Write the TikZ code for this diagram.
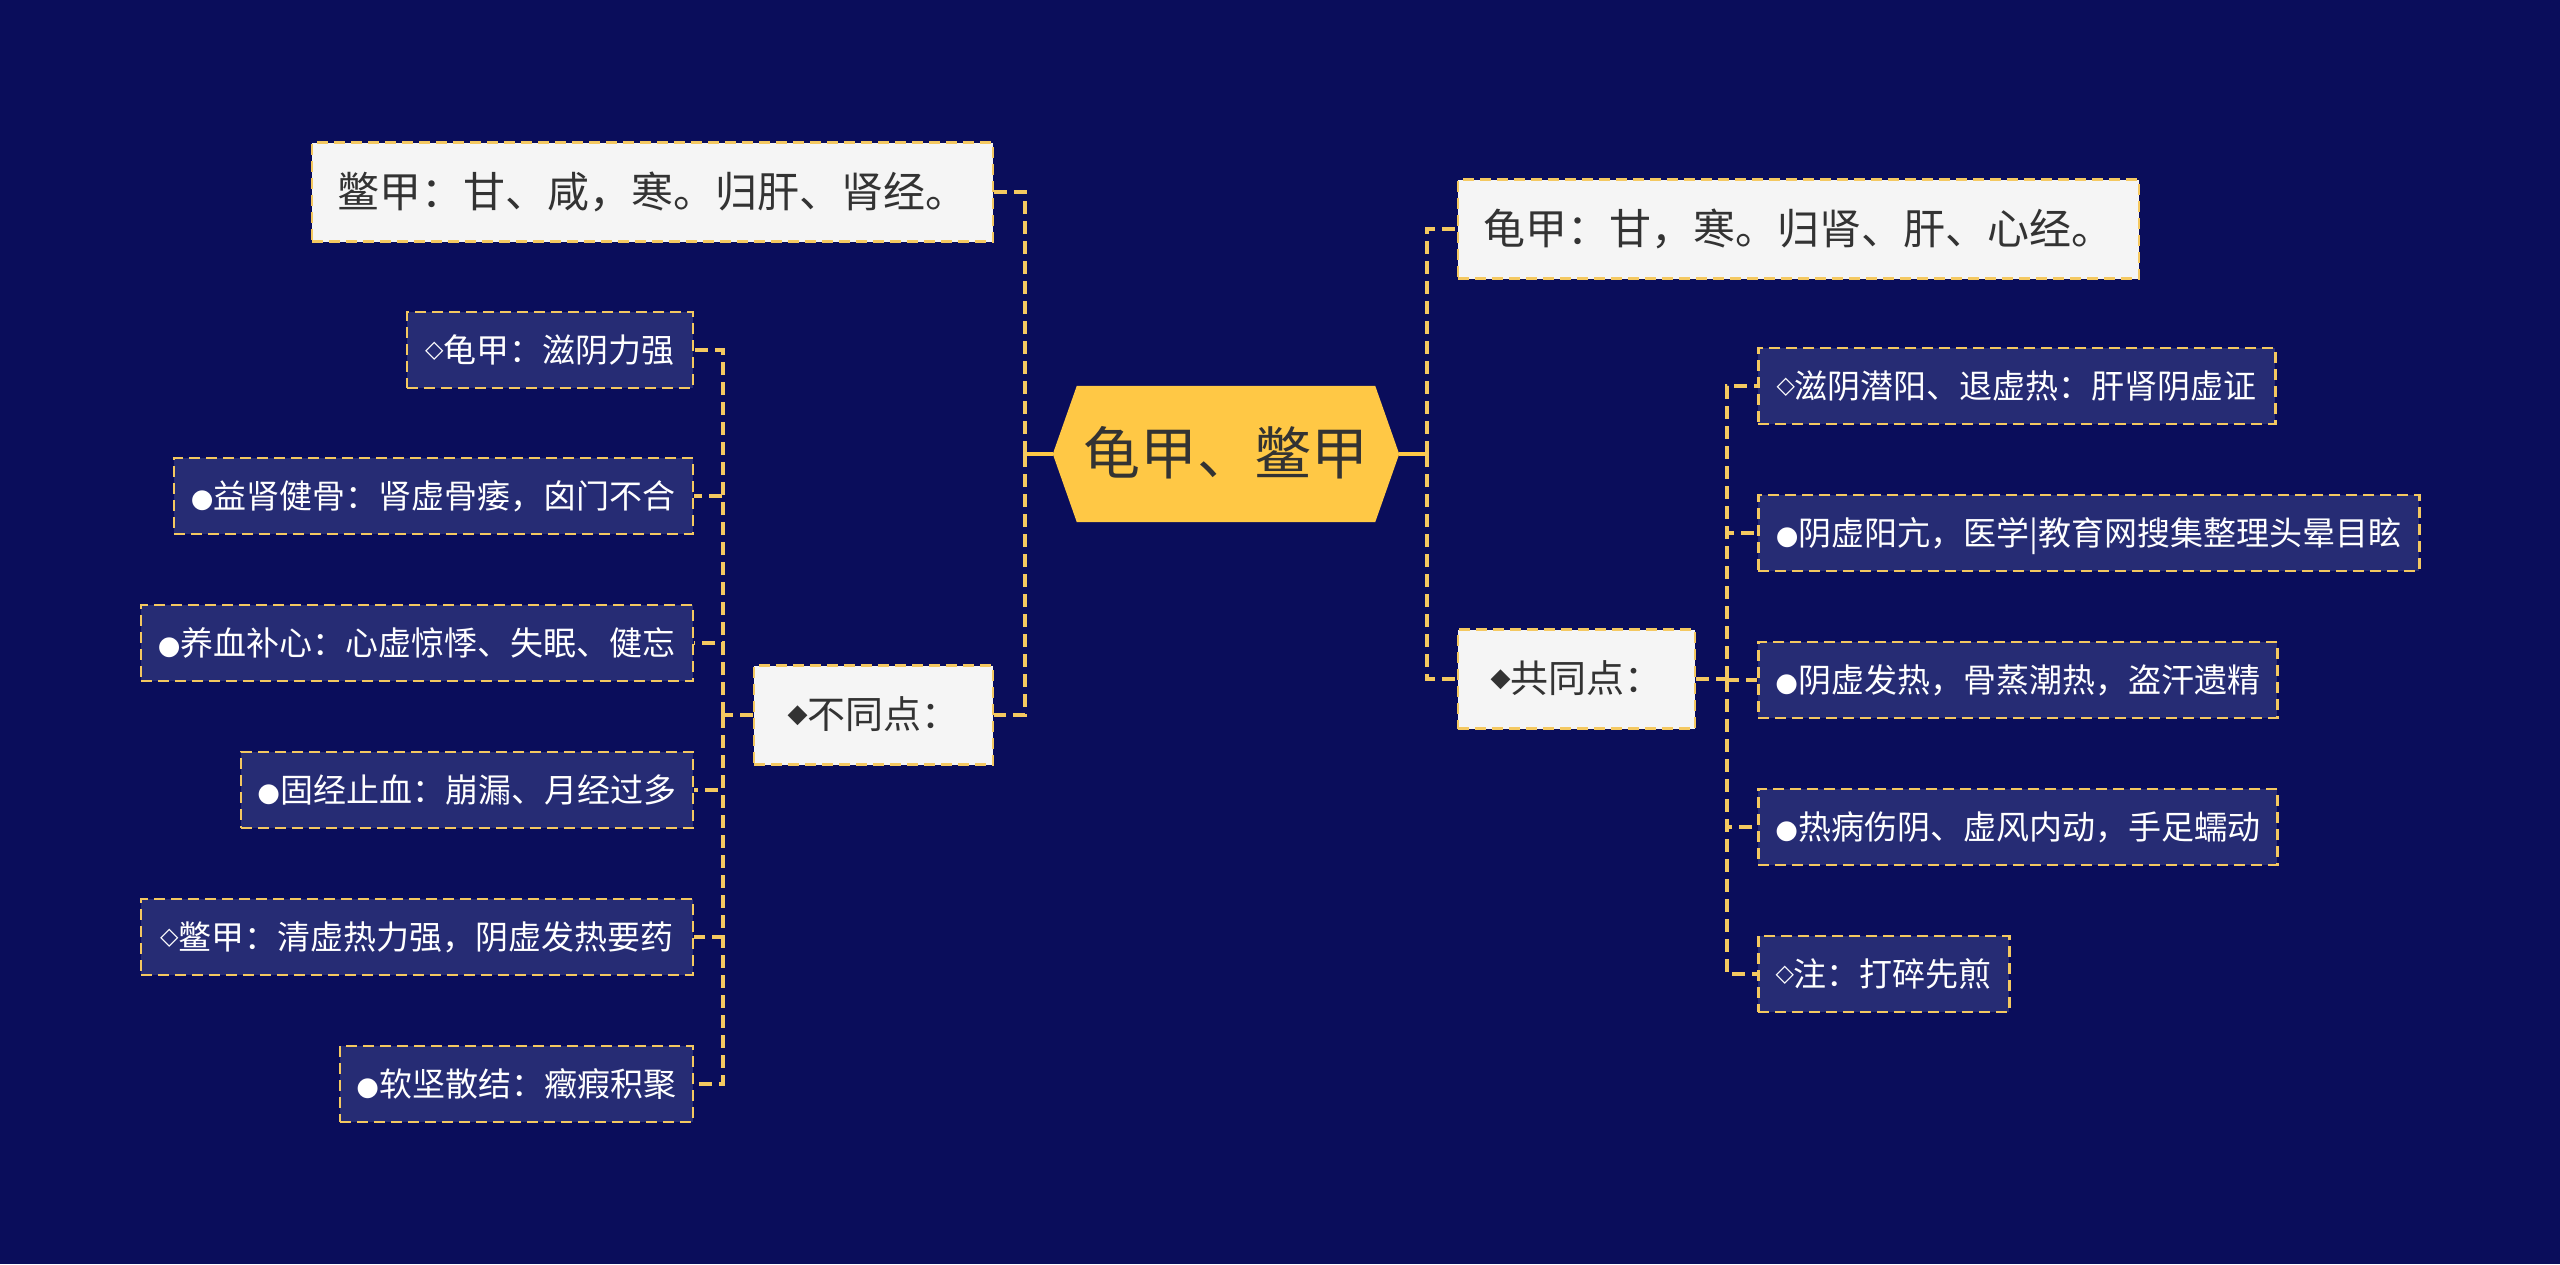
\documentclass[tikz,border=0pt]{standalone}
\usepackage{fontspec}
\setmainfont{Noto Sans CJK SC}
\newfontfamily\symfont{DejaVu Sans}
\definecolor{bg}{HTML}{0A0D5B}
\definecolor{gold}{HTML}{FFC845}
\definecolor{dashc}{HTML}{F4C860}
\definecolor{darkbox}{HTML}{262C74}
\definecolor{lightbox}{HTML}{F5F5F5}
\definecolor{txt}{HTML}{333333}
\newcommand{\mydot}{{\symfont\fontsize{26}{26}\selectfont\raisebox{1pt}{●}}}
\newcommand{\mydia}{{\symfont\fontsize{24}{24}\selectfont\raisebox{5pt}{◇}}}
\newcommand{\myfdia}{{\symfont\fontsize{26}{26}\selectfont\raisebox{6pt}{◆}}}
\begin{document}
\begin{tikzpicture}[x=1pt,y=-1pt,
  lightnode/.style={draw=dashc, fill=lightbox, line width=2.5pt, dash pattern=on 11pt off 6pt,
    text=txt, font=\fontsize{42}{50}\selectfont, minimum height=99pt, inner sep=0pt,
    text height=33pt, text depth=3pt},
  midnode/.style={lightnode, font=\fontsize{38}{46}\selectfont, text height=30pt, text depth=3pt},
  darknode/.style={draw=dashc, fill=darkbox, line width=2.5pt, dash pattern=on 11pt off 6pt,
    text=white, font=\fontsize{33}{40}\selectfont, minimum height=76pt, inner sep=0pt,
    text height=26pt, text depth=2pt},
  conn/.style={draw=dashc, line width=3.2pt, dash pattern=on 13pt off 7pt},
  stub/.style={draw=gold, line width=3.5pt}]
\fill[bg] (0,0) rectangle (2560,1264);
\useasboundingbox (0,0) rectangle (2560,1264);

% central hexagon
\node[minimum width=346pt, minimum height=136pt, inner sep=0pt] (hex) at (1226,454) {};
\fill[gold] (hex.west) -- ([xshift=24pt]hex.north west) -- ([xshift=-24pt]hex.north east)
  -- (hex.east) -- ([xshift=-24pt]hex.south east) -- ([xshift=24pt]hex.south west) -- cycle;
\node[text=txt, font=\fontsize{57}{64}\selectfont, inner sep=0pt, text height=45pt, text depth=4pt] (hext) at (hex.center) {龟甲、鳖甲};

% left branch
\node[lightnode, minimum width=681pt] (bj) at (652.5,192) {鳖甲：甘、咸，寒。归肝、肾经。};
\node[midnode, minimum width=239pt] (btd) at (873.5,715) {\myfdia 不同点：};

\node[darknode, minimum width=286pt, anchor=east] (l1) at (694,350) {\mydia 龟甲：滋阴力强};
\node[darknode, minimum width=519pt, anchor=east] (l2) at (694,496) {\mydot 益肾健骨：肾虚骨痿，囟门不合};
\node[darknode, minimum width=552pt, anchor=east] (l3) at (694,643) {\mydot 养血补心：心虚惊悸、失眠、健忘};
\node[darknode, minimum width=452pt, anchor=east] (l4) at (694,790) {\mydot 固经止血：崩漏、月经过多};
\node[darknode, minimum width=552pt, anchor=east] (l5) at (694,937) {\mydia 鳖甲：清虚热力强，阴虚发热要药};
\node[darknode, minimum width=353pt, anchor=east] (l6) at (694,1084) {\mydot 软坚散结：癥瘕积聚};

% right branch
\node[lightnode, minimum width=681pt] (gj) at (1798.5,229) {龟甲：甘，寒。归肾、肝、心经。};
\node[midnode, minimum width=237pt] (gtd) at (1576.5,679) {\myfdia 共同点：};

\node[darknode, minimum width=517pt, anchor=west] (r1) at (1757,386) {\mydia 滋阴潜阳、退虚热：肝肾阴虚证};
\node[darknode, minimum width=661pt, anchor=west] (r2) at (1757,533) {\mydot 阴虚阳亢，医学|教育网搜集整理头晕目眩};
\node[darknode, minimum width=519pt, anchor=west] (r3) at (1757,680) {\mydot 阴虚发热，骨蒸潮热，盗汗遗精};
\node[darknode, minimum width=519pt, anchor=west] (r4) at (1757,827) {\mydot 热病伤阴、虚风内动，手足蠕动};
\node[darknode, minimum width=251pt, anchor=west] (r5) at (1757,974) {\mydia 注：打碎先煎};

% connectors
\coordinate (LB) at (1025,454);
\coordinate (RB) at (1427,454);
\draw[stub] (hex.west) -- (LB);
\draw[stub] (hex.east) -- (RB);
\draw[conn] (LB) |- (bj.east);
\draw[conn] (LB) |- (btd.east);
\draw[conn] (RB) |- (gj.west);
\draw[conn] (RB) |- (gtd.west);

\coordinate (LS) at (723,715);
\draw[conn] (btd.west) -- (LS);
\foreach \n in {l1,l2,l3,l4,l5,l6} \draw[conn] (LS) |- (\n.east);

\coordinate (RS) at (1727,679);
\draw[conn] (gtd.east) -- (RS);
\foreach \n in {r1,r2,r3,r4,r5} \draw[conn] (RS) |- (\n.west);
\end{tikzpicture}
\end{document}
